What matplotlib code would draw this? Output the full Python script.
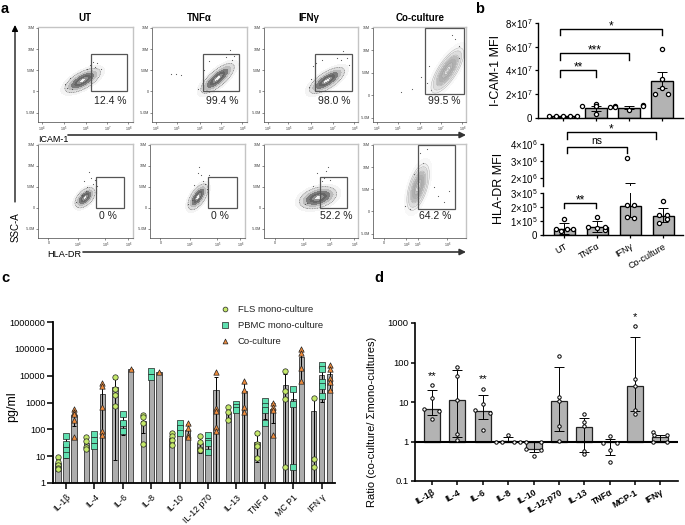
import numpy as np
import matplotlib
matplotlib.use('Agg')
import matplotlib.pyplot as plt
from matplotlib.patches import Rectangle
from matplotlib.colors import ListedColormap

plt.rcParams['font.family'] = ['Liberation Sans', 'DejaVu Sans']
plt.rcParams['mathtext.fontset'] = 'custom'
plt.rcParams['mathtext.rm'] = 'Liberation Sans'
plt.rcParams['mathtext.default'] = 'rm'

W, H = 685, 525

# panel a: flow plots, x in % of the axis, y in millions
flow_titles = ['UT', 'TNFα', 'IFNγ', 'Co-culture']
top_pct = ['12.4 %', '99.4 %', '98.0 %', '99.5 %']
bot_pct = ['0 %', '0 %', '52.2 %', '64.2 %']
# cx, cy, sx, sy, rho
top_pop = [(47, 2.6, 8.5, 1.3, .65), (69, 3.1, 8, 1.6, .75), (67, 2.6, 8.5, 1.4, .7), (80, 5.5, 8, 2.3, .75)]
bot_pop = [(49.5, 2.4, 4.8, 1.1, .5), (50.5, 2.6, 4.8, 1.4, .6), (57.5, 2.4, 9, 1.2, .35), (48.5, 5.5, 5.5, 2.4, .55)]
# x0, x1, y0, y1
top_gate = [(55.8, 93.7, 0, 8.8), (53.7, 91.6, 0, 8.8), (54.3, 93.6, 0, 8.8), (55.9, 97.8, .2, 15)]
bot_gate = [(61, 90.5, 0, 7.4), (61, 91.6, 0, 7.4), (59.6, 88.3, 0, 7.4), (48.4, 88, .5, 15)]
top_dots_x = [[28, 30, 34, 55, 58, 60, 62, 66, 36, 52], [20, 25, 30, 48, 55, 78, 82, 84, 86, 60],
              [48, 50, 52, 62, 78, 84, 88, 90, 55, 82], [30, 42, 52, 58, 60, 62, 88, 92, 93, 85]]
top_dots_y = [[1.8, .8, 3.2, 6.2, 7, 5.8, 6.6, 5.2, .6, 5.4], [4.2, 4.2, 3.8, .5, 5, 8.2, 9.8, 7.5, 8.4, 7.2],
              [1, 3, 6, 7.4, 7.9, 9.6, 8, 6.3, 6.8, 7.5], [.7, 1.3, 4, 2.7, 6.5, 1.2, 12.5, 11, 8.2, 13.5]]
bot_dots_x = [[40, 46, 48, 54, 56, 58, 52, 62, 60, 50], [40, 44, 50, 52, 54, 56, 58, 60, 46, 62],
              [44, 52, 56, 62, 66, 68, 70, 64, 60, 46], [34, 40, 44, 50, 54, 58, 66, 70, 76, 82]]
bot_dots_y = [[1.3, 3, 6.3, 8.6, 7.2, 5.6, 5, 5.2, 6.6, 4], [.8, 1.8, 8.2, 9.8, 7.8, 6.5, 5.6, 4.5, 5.4, 7.8],
              [.9, 5.2, 8.2, 6.4, 8.8, 9.8, 6.6, 7.2, 5.5, 1.2], [1.3, .6, 8.5, 13.2, 11, 14, 5.5, 3.5, 2.2, 4.6]]

# panel b
bar_names = ['UT', 'TNFα', 'IFNγ', 'Co-culture']
icam_bar = [1.5e6, 8.4e6, 8.5e6, 3.12e7]
icam_hi = [1.8e6, 1.05e7, 1.0e7, 3.85e7]
icam_lo = [1.2e6, 6.0e6, 7.5e6, 2.5e7]
icam_pts = [[1.4e6, 1.6e6, 1.9e6, 1.5e6, 1.4e6], [1.03e7, 1.19e7, 3.6e6, 9.7e6, 9.2e6],
            [1.03e7, 8.9e6, 7e6, 1.09e7, 9.7e6], [5.77e7, 3.26e7, 2.5e7, 2.03e7, 2.03e7]]
icam_off = [[-.42, -.2, 0, .2, .42], [-.42, 0, 0, 0, .42], [-.42, -.42, 0, .42, .42], [0, 0, 0, -.2, .2]]
hla_bar = [4.1e4, 6.0e4, 2.1e5, 1.35e5]
hla_hi = [8.4e4, 9.8e4, 1.7e6, 1.95e5]
hla_lo = [1.0e4, 2.5e4, 1.3e5, 9.5e4]
hla_pts = [[1.13e5, 4.1e4, 4.1e4, 4.0e4, 3.0e4], [1.32e5, 6e4, 4.8e4, 3.6e4, 5.4e4],
           [3.2e6, 2.16e5, 2.16e5, 1.27e5, 1.25e5], [2.45e5, 1.44e5, 1.4e5, 1.15e5, 8.4e4]]
hla_off = [[0, -.26, .08, .26, -.1], [0, -.28, 0, .25, .25], [-.1, -.1, .12, -.1, .12], [0, -.12, .12, .12, -.12]]

# panel c
cyto_names = ['IL-1β', 'IL-4', 'IL-6', 'IL-8', 'IL-10', 'IL-12 p70', 'IL-13', 'TNF α', 'MC P1', 'IFN γ']
fls = [[9.5, 6.2, 4.6, 3.5, 3.4], [52, 36, 22, 19], [9200, 3200, 1900, 760], [330, 175, 290, 29],
       [70, 56, 39, 27], [57, 34, 19, 17], [660, 430, 220], [72, 29, 23, 8.6],
       [14700, 2700, 1340, 3.9], [1430, 7.7, 3.9]]
pbmc = [[55.6, 29.6, 17.6, 10.8], [66, 39, 24], [372, 175, 85], [14300, 9200],
        [175, 108, 70], [62, 37, 30, 14], [850, 700, 520], [1140, 760, 520, 175],
        [3100, 900, 3.9], [25000, 18000, 6000, 4300, 1750]]
coc = [[555, 450, 372, 220, 52], [5500, 4300, 660, 88, 64], [17800], [13800],
       [165, 117, 59, 52], [13500, 600, 490, 125, 86], [6600, 3000, 700, 450], [980, 700, 520, 59],
       [96000, 69000, 20000, 6400], [24000, 17000, 8000, 6000, 2900]]
legend_names = ['FLS mono-culture', 'PBMC mono-culture', 'Co-culture']

# panel d
ratio_names = ['IL-1β', 'IL-4', 'IL-6', 'IL-8', 'IL-10', 'IL-12-p70', 'IL-13', 'TNFα', 'MCP-1', 'IFNγ']
ratio_bar = [6.6, 11.4, 6, 1.05, .65, 10.6, 2.35, .95, 26, 1.28]
ratio_hi = [20, 64, 15, 1.3, 1, 78, 3.9, 1.15, 440, 1.45]
ratio_lo = [4.8, 1.3, 3.7, 1, .54, 1.8, .54, .46, 5.8, 1]
ratio_pts = [[27, 12.8, 6.6, 5.8, 3.8], [78, 46, 11.4, 1.56, 1.1], [21, 8.9, 6.1, 5.4, 2],
             [1.5, 1, 1, 1, 1], [1, .96, .64, .62, .44], [144, 13, 10.8, 2.5, 1.06],
             [5, 3.1, 2.4, .59, .49], [1.4, .9, .9, .61, .3], [860, 38, 26, 6.4, 5],
             [1.7, 1.48, 1.48, .95, .95]]
ratio_off = [[0, 0, -.33, .28, 0], [0, 0, 0, 0, 0], [0, 0, -.3, .28, 0], [0, -.48, -.24, .24, .48],
             [-.28, .28, -.28, .28, 0], [0, 0, 0, 0, 0], [0, 0, 0, 0, 0], [0, -.28, .28, 0, 0],
             [0, 0, 0, 0, 0], [-.3, .25, -.25, -.3, .25]]
ratio_stars = {0: ('**', 46), 2: ('**', 37), 8: ('*', 1400)}

fig = plt.figure(figsize=(6.85, 5.25), dpi=100)


def axpx(l, t, r, b):
    return fig.add_axes([l / W, 1 - b / H, (r - l) / W, (b - t) / H])


def flow(box, ylim, yticks, ylabs, xticks, xlabs, pop, gate, dots_x, dots_y, lines_only=False):
    ax = axpx(*box)
    ax.set_xlim(0, 100)
    ax.set_ylim(*ylim)
    xx, yy = np.meshgrid(np.linspace(0, 100, 220), np.linspace(ylim[0], ylim[1], 220))
    cx, cy, sx, sy, rho = pop
    u, v = (xx - cx) / sx, (yy - cy) / sy
    r = np.sqrt((u * u - 2 * rho * u * v + v * v) / (1 - rho * rho))
    lev = [0, .2, .45, .75, 1.1, 1.5, 1.9, 2.2, 2.7]
    if lines_only:
        cols = ['#e2e2e2', '#bcbcbc', '#b0b0b0', '#bcbcbc', '#cccccc', '#dddddd', '#eeeeee', '#f8f8f8']
        ax.contourf(xx, yy, r, levels=lev, cmap=ListedColormap(cols))
        ax.contour(xx, yy, r, levels=lev[1:-1], colors='#a0a0a0', linewidths=.3)
    else:
        cols = ['#efefef', '#909090', '#666666', '#7c7c7c', '#9c9c9c', '#bcbcbc', '#dcdcdc', '#f4f4f4']
        ax.contourf(xx, yy, r, levels=lev, cmap=ListedColormap(cols))
        ax.contour(xx, yy, r, levels=[lev[-2]], colors='#555555', linewidths=.4, linestyles=[(0, (2, 1))])
    ax.scatter(dots_x, dots_y, s=.7, color='#555555', linewidths=0)
    x0, x1, y0, y1 = gate
    ax.add_patch(Rectangle((x0, y0), x1 - x0, y1 - y0, fill=False, ec='#555555', lw=.9, zorder=5))
    for s in ['top', 'right']:
        ax.spines[s].set_color('#c4c4c4')
        ax.spines[s].set_linewidth(1)
    for s in ['left', 'bottom']:
        ax.spines[s].set_color('#444444')
        ax.spines[s].set_linewidth(.5)
    ax.set_xticks(xticks)
    ax.set_xticklabels(xlabs)
    ax.set_yticks(yticks)
    ax.set_yticklabels(ylabs)
    ax.tick_params(labelsize=2.6, length=1.5, width=.4, pad=.6, colors='#333333')
    return ax


top_boxes = [(38, 27, 133, 122), (152, 27, 247, 122), (264, 27, 358, 122), (373, 27, 466, 122)]
bot_boxes = [(38, 144, 133, 238), (150, 144, 245, 238), (264, 144, 358, 238), (373, 144, 466, 238)]
top_xt = [[4, 27, 50, 73, 95], [4, 26, 50, 73, 95], [4, 26, 50, 73, 96], [4, 27, 50, 73, 96]]
top_xl = ['$10^4$', '$10^5$', '$10^6$', '$10^7$', '$10^8$']
bot_xt = [[11, 42, 71, 95], [11, 42, 71, 95], [12, 42, 70, 96], [12, 36, 48, 80]]
bot_xl = ['0', '$10^4$', '$10^5$', '$10^6$']
y_labs = ['-5.0M', '0', '5.0M', '10M', '15M']
for i in range(4):
    yl = (-6.0, 15.2) if i == 3 else (-7.2, 15.2)
    flow(top_boxes[i], yl, [-5, 0, 5, 10, 15], y_labs, top_xt[i], top_xl, top_pop[i], top_gate[i],
         top_dots_x[i], top_dots_y[i], lines_only=(i == 3))
    flow(bot_boxes[i], yl, [-5, 0, 5, 10, 15], y_labs, bot_xt[i], bot_xl, bot_pop[i], bot_gate[i],
         bot_dots_x[i], bot_dots_y[i], lines_only=(i == 3))


# panel b
def style(ax, lw=1.2):
    for s in ['top', 'right']:
        ax.spines[s].set_visible(False)
    for s in ['left', 'bottom']:
        ax.spines[s].set_linewidth(lw)


def sci(v):
    if v == 0:
        return '0'
    e = int(np.floor(np.log10(v)))
    return '$%d{\\times}10^{%d}$' % (round(v / 10 ** e), e)


pos = np.arange(4)
ax = axpx(538, 23, 683, 118)
ax.bar(pos, icam_bar, .66, color='#b3b3b3', edgecolor='black', lw=1)
for i in pos:
    ax.errorbar(i, icam_bar[i], yerr=[[icam_bar[i] - icam_lo[i]], [icam_hi[i] - icam_bar[i]]],
                color='black', lw=.7, capsize=3.5, capthick=.7)
    ax.scatter(i + np.array(icam_off[i]), icam_pts[i], s=9, facecolor='white', edgecolor='black', lw=.9, zorder=5, clip_on=False)
ax.set_xlim(-.76, 3.64)
ax.set_ylim(0, 8e7)
ax.set_yticks([0, 2e7, 4e7, 6e7, 8e7])
ax.set_yticklabels([sci(v) for v in [0, 2e7, 4e7, 6e7, 8e7]])
ax.set_xticks(pos)
ax.set_xticklabels([])
ax.tick_params(labelsize=7, length=2.5, width=.9, pad=1.5)
style(ax, 1)

low = axpx(543, 193, 683, 235)
upp = axpx(543, 144, 683, 186)
for a, ylim in [(low, (0, 3e5)), (upp, (1.53e6, 4e6))]:
    a.bar(pos, hla_bar, .64, color='#b3b3b3', edgecolor='black', lw=1)
    for i in pos:
        a.errorbar(i, hla_bar[i], yerr=[[hla_bar[i] - hla_lo[i]], [hla_hi[i] - hla_bar[i]]],
                   color='black', lw=.7, capsize=3.5, capthick=.7)
        a.scatter(i + np.array(hla_off[i]), hla_pts[i], s=9, facecolor='white', edgecolor='black', lw=.9, zorder=5)
    a.set_xlim(-.64, 3.6)
    a.set_ylim(*ylim)
    a.patch.set_alpha(0)
    a.tick_params(labelsize=7, length=2.5, width=.9, pad=1.5)
    style(a, 1)
upp.spines['bottom'].set_visible(False)
upp.set_xticks([])
upp.set_yticks([2e6, 3e6, 4e6])
upp.set_yticklabels([sci(v) for v in [2e6, 3e6, 4e6]])
low.set_yticks([0, 1e5, 2e5, 3e5])
low.set_yticklabels([sci(v) for v in [0, 1e5, 2e5, 3e5]])
low.set_xticks(pos)
low.set_xticklabels(bar_names, rotation=30, ha='right', rotation_mode='anchor', fontsize=6.5)
low.tick_params(axis='x', length=2, pad=3)

# panel c
ax = axpx(53, 322, 335, 483)
ax.set_yscale('log')
groups = [fls, pbmc, coc]
shifts = [-.28, 0, .28]
marks = ['o', 's', '^']
fills = ['#c4e86a', '#5fe0b0', '#f08c3c']
sizes = [15, 18, 15]
for g in range(3):
    for i in range(10):
        vals = np.array(groups[g][i], dtype=float)
        m = vals.mean()
        ax.bar(i + shifts[g], m, .19, color='#adadad', edgecolor='#333333', lw=.6, zorder=2)
        if len(vals) > 1:
            sd = vals.std(ddof=1)
            ax.errorbar(i + shifts[g], m, yerr=[[min(sd, m - .5)], [sd]], color='black', lw=.7,
                        capsize=1.6, capthick=.7, zorder=3)
        ax.scatter(np.full(len(vals), i + shifts[g]), vals, s=sizes[g], marker=marks[g], facecolor=fills[g],
                   edgecolor='#222222', lw=.5, zorder=4, clip_on=False)
ax.set_xlim(-.458, 9.47)
ax.set_ylim(1, 1e6)
ax.set_yticks([10 ** k for k in range(7)])
ax.set_yticklabels(['1', '10', '100', '1000', '10000', '100000', '1000000'])
ax.minorticks_off()
ax.set_xticks(np.arange(10))
ax.set_xticklabels(cyto_names, rotation=45, ha='right', rotation_mode='anchor', fontsize=6.3)
ax.tick_params(axis='y', labelsize=6.6, length=4, width=1.1, pad=1.5)
ax.tick_params(axis='x', length=4, width=1.1, pad=3)
style(ax, 1.3)

# panel d
ax = axpx(415, 323, 678, 481)
ax.set_yscale('log')
idx = np.arange(10)
ax.bar(idx, np.array(ratio_bar) - 1, .63, bottom=1, color='#b3b3b3', edgecolor='#222222', lw=.9, zorder=2)
for i in idx:
    ax.errorbar(i, ratio_bar[i], yerr=[[ratio_bar[i] - ratio_lo[i]], [ratio_hi[i] - ratio_bar[i]]],
                color='black', lw=.7, capsize=3.5, capthick=.7, zorder=3)
    ax.scatter(i + np.array(ratio_off[i]), ratio_pts[i], s=6, facecolor='white', edgecolor='black', lw=.7, zorder=5)
ax.axhline(1, color='black', lw=1.5, zorder=4)
for i, (t, yv) in ratio_stars.items():
    ax.text(i, yv, t, ha='center', va='center', fontsize=8)
ax.set_xlim(-.67, 9.69)
ax.set_ylim(.1, 1000)
ax.set_yticks([.1, 1, 10, 100, 1000])
ax.set_yticklabels(['0.1', '1', '10', '100', '1000'])
ax.minorticks_off()
ax.set_xticks(idx)
ax.set_xticklabels(ratio_names, rotation=30, ha='right', rotation_mode='anchor', fontsize=6.3, fontweight='bold')
ax.tick_params(axis='y', labelsize=6.8, length=3, width=1.1, pad=1.5)
ax.tick_params(axis='x', length=3, width=1.1, pad=2)
style(ax, 1.2)

# text, arrows, brackets, in pixel coordinates
ov = fig.add_axes([0, 0, 1, 1])
ov.set_xlim(0, W)
ov.set_ylim(H, 0)
ov.axis('off')
ov.patch.set_alpha(0)

for t, (x, y) in zip(['a', 'b', 'c', 'd'], [(5, 9), (480, 9), (5, 278), (379, 278)]):
    ov.text(x, y, t, fontsize=10.5, fontweight='bold', ha='center', va='center')
for t, x in zip(flow_titles, [85, 199, 309, 420]):
    ov.text(x, 18, t, fontsize=7, fontweight='bold', ha='center', va='center')
for t, x in zip(top_pct, [110, 222, 334, 444]):
    ov.text(x, 101, t, fontsize=7.5, ha='center', va='center', color='#222222')
for t, x in zip(bot_pct, [108, 220, 336, 435]):
    ov.text(x, 216, t, fontsize=7.5, ha='center', va='center', color='#222222')

ov.annotate('', xy=(15, 25), xytext=(15, 202), arrowprops=dict(arrowstyle='-|>', color='black', lw=.9, mutation_scale=9, shrinkA=0, shrinkB=0))
ov.annotate('', xy=(466, 135), xytext=(68, 135), arrowprops=dict(arrowstyle='-|>', color='#333333', lw=1.2, mutation_scale=9, shrinkA=0, shrinkB=0))
ov.annotate('', xy=(466, 252), xytext=(83, 252), arrowprops=dict(arrowstyle='-|>', color='#333333', lw=1.2, mutation_scale=9, shrinkA=0, shrinkB=0))
ov.text(16, 227, 'SSC-A', rotation=90, fontsize=7, ha='center', va='center')
ov.text(38, 139, 'ICAM-1', fontsize=6.4, ha='left', va='center')
ov.text(47, 254.5, 'HLA-DR', fontsize=6.6, ha='left', va='center')

ov.text(496, 70, 'I-CAM-1 MFI', rotation=90, fontsize=9, ha='center', va='center')
ov.text(499, 188, 'HLA-DR MFI', rotation=90, fontsize=9, ha='center', va='center')
ov.text(12, 407, 'pg/ml', rotation=90, fontsize=9, ha='center', va='center')
ov.text(372, 422, 'Ratio (co-culture/ Σmono-cultures)', rotation=90, fontsize=8, ha='center', va='center')

brackets = [(560, 662, 29, 35, '*', 24), (560, 629, 53, 60, '***', 48), (560, 596, 70, 77, '**', 65),
            (567, 656, 132, 139, '*', 127), (567, 627, 147, 153, 'ns', 141), (564, 596, 203, 208, '**', 198)]
for x0, x1, y, yd, t, ty in brackets:
    ov.plot([x0, x0, x1, x1], [yd, y, y, yd], color='black', lw=1)
    ov.text((x0 + x1) / 2, ty + (0 if t == 'ns' else 2), t, fontsize=8.5 if t != 'ns' else 7.5, ha='center', va='center')

for k in range(3):
    y = 309 + 16 * k
    ov.scatter([225], [y], s=sizes[k] * .8, marker=marks[k], facecolor=fills[k], edgecolor='#222222', lw=.5)
    ov.text(238, y, legend_names[k], fontsize=6.8, ha='left', va='center', color='#222222')

fig.savefig('out.png', dpi=100)
